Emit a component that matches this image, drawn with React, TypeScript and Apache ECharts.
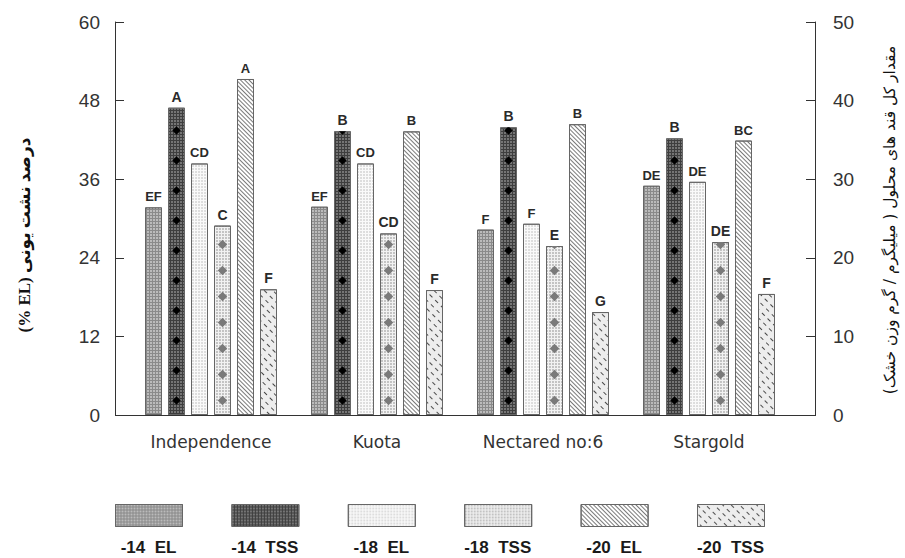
import React, { useEffect, useRef } from "react";
import * as echarts from "echarts";

// ---------- data ----------
const categories = ["Independence", "Kuota", "Nectared no:6", "Stargold"];
const seriesNames = ["-14  EL", "-14  TSS", "-18  EL", "-18  TSS", "-20  EL", "-20  TSS"];

// EL (%) on left axis, TSS on right axis
const el14 = [31.7, 31.8, 28.3, 35.0];
const tss14 = [39.1, 36.1, 36.6, 35.2];
const el18 = [38.4, 38.4, 29.2, 35.6];
const tss18 = [24.1, 23.1, 21.5, 22.0];
const el20 = [51.3, 43.3, 44.4, 41.9];
const tss20 = [16.0, 15.9, 13.1, 15.4];

const letters14EL = ["EF", "EF", "F", "DE"];
const letters14TSS = ["A", "B", "B", "B"];
const letters18EL = ["CD", "CD", "F", "DE"];
const letters18TSS = ["C", "CD", "E", "DE"];
const letters20EL = ["A", "B", "B", "BC"];
const letters20TSS = ["F", "F", "G", "F"];

const leftAxis = { min: 0, max: 60, interval: 12 };
const rightAxis = { min: 0, max: 50, interval: 10 };

const leftTitle = "(% EL) درصد نشت یونی";
const rightTitle = "\u200Fمقدار کل قند های محلول ( میلیگرم / گرم وزن خشک)\u200F";

// ---------- layout ----------
const W = 905;
const H = 558;
const GRID_LEFT = 128;
const GRID_RIGHT = 113;
const GRID_TOP = 22;
const GRID_BOTTOM = 143;
const LEFT_OFFSET = 13;
const RIGHT_OFFSET = 23;
const BAR_W = 17;
const BAR_GAP = (6 / 17) * 100 + "%";
const LEG_LEFT = 115;
const LEG_STEP = 116.4;
const LEG_TOP = 504;
const LEG_W = 67;
const LEG_H = 22;

const AXIS_COLOR = "#333";
const BORDER = "#666";

const dotDecal = (color: string, size = 0.7) => ({
  symbol: "rect",
  symbolSize: size,
  color,
  dashArrayX: [2, 1],
  dashArrayY: [2, 1],
  rotation: 0,
});

const hatchDecal = (color: string, dashX: number[], dashY: number[]) => ({
  symbol: "rect",
  symbolSize: 1,
  color,
  dashArrayX: dashX,
  dashArrayY: dashY,
  rotation: Math.PI / 4,
});

const diamondDecal = (color: string, dashX: number[], dashY: number[], size: number) => ({
  symbol: "diamond",
  symbolSize: size,
  color,
  dashArrayX: dashX,
  dashArrayY: dashY,
  rotation: 0,
});

export default function App() {
  const ref = useRef<HTMLDivElement>(null);

  useEffect(() => {
    if (!ref.current) return;
    const chart = echarts.init(ref.current, null, { renderer: "svg", width: W, height: H });

    const defs = [
      { data: el14, y: 0, color: "#8a8a8a", decal: dotDecal("#e8e8e8"), letters: letters14EL, fs: 13 },
      { data: tss14, y: 1, color: "#3e3e3e", decal: dotDecal("#a8a8a8"), letters: letters14TSS, fs: 14 },
      { data: el18, y: 0, color: "#fafafa", decal: dotDecal("#9a9a9a", 0.6), letters: letters18EL, fs: 13 },
      { data: tss18, y: 1, color: "#f2f2f2", decal: dotDecal("#555555", 0.6), letters: letters18TSS, fs: 14 },
      { data: el20, y: 0, color: "#ffffff", decal: hatchDecal("#7a7a7a", [1, 0], [1, 2]), letters: letters20EL, fs: 13 },
      { data: tss20, y: 1, color: "#ededed", decal: hatchDecal("#4a4a4a", [4, 4], [1, 5]), letters: letters20TSS, fs: 14 },
    ];

    const mainSeries = defs.map((d, i) => ({
      type: "bar",
      name: seriesNames[i],
      xAxisIndex: 0,
      yAxisIndex: d.y,
      data: d.data,
      barWidth: BAR_W,
      barGap: BAR_GAP,
      itemStyle: { color: d.color, borderColor: BORDER, borderWidth: 1, decal: d.decal },
      label: {
        show: true,
        position: "top",
        distance: 4,
        formatter: (p: any) => d.letters[p.dataIndex],
        fontFamily: "Liberation Sans, Arial, sans-serif",
        fontWeight: "bold",
        fontSize: d.fs,
        color: "#2a2a2a",
      },
      silent: true,
    }));

    // overlay series (diamond markers) laid out on a twin category axis
    const overlayDefs: any[] = [
      null,
      { data: tss14, y: 1, decal: diamondDecal("#000000", [21, 62], [21, 9], 0.4) },
      null,
      { data: tss18, y: 1, decal: diamondDecal("#7a7a7a", [0, 46, 21, 16], [21, 5], 0.45) },
      null,
      null,
    ];
    const overlaySeries = overlayDefs.map((d) => ({
      type: "bar",
      xAxisIndex: 1,
      yAxisIndex: d ? d.y : 0,
      data: d ? d.data : [],
      barWidth: BAR_W,
      barGap: BAR_GAP,
      itemStyle: d
        ? { color: "rgba(0,0,0,0)", borderWidth: 0, decal: d.decal }
        : { color: "rgba(0,0,0,0)" },
      silent: true,
      z: 3,
    }));

    const legends = seriesNames.map((n, i) => ({
      data: [n],
      left: LEG_LEFT + i * LEG_STEP,
      top: LEG_TOP,
      padding: 0,
      itemGap: 0,
      itemWidth: LEG_W,
      itemHeight: LEG_H,
      icon: "rect",
      selectedMode: false,
      formatter: () => "",
      itemStyle: { borderWidth: 1, borderColor: BORDER },
    }));

    const legendLabels = seriesNames.map((n, i) => ({
      type: "text",
      x: LEG_LEFT + i * LEG_STEP + LEG_W / 2,
      y: 547,
      silent: true,
      style: {
        text: n,
        fill: "#1a1a1a",
        font: "bold 17px 'Liberation Sans', Arial, sans-serif",
        textAlign: "center",
        textVerticalAlign: "middle",
      },
    }));

    const axisY = H - GRID_BOTTOM;
    const leftX = GRID_LEFT - LEFT_OFFSET;
    const rightX = W - GRID_RIGHT + RIGHT_OFFSET;

    const yAxisCommon = {
      type: "value",
      axisLine: { show: true, lineStyle: { color: AXIS_COLOR, width: 1 } },
      axisTick: { show: true, inside: true, length: 9, lineStyle: { color: AXIS_COLOR } },
      splitLine: { show: false },
    };

    chart.setOption({
      animation: false,
      backgroundColor: "#ffffff",
      grid: { left: GRID_LEFT, right: GRID_RIGHT, top: GRID_TOP, bottom: GRID_BOTTOM, containLabel: false },
      xAxis: [
        {
          type: "category",
          data: categories,
          axisLine: { show: false },
          axisTick: { show: false },
          axisLabel: {
            margin: 18,
            fontSize: 17,
            fontFamily: "DejaVu Sans, sans-serif",
            color: "#333",
          },
        },
        { type: "category", data: categories, show: false },
      ],
      yAxis: [
        {
          ...yAxisCommon,
          ...leftAxis,
          position: "left",
          offset: LEFT_OFFSET,
          axisLabel: { margin: 15, fontSize: 19, fontFamily: "Liberation Sans, Arial, sans-serif", color: "#333" },
        },
        {
          ...yAxisCommon,
          ...rightAxis,
          position: "right",
          offset: RIGHT_OFFSET,
          axisLabel: { margin: 18, fontSize: 19, fontFamily: "Liberation Sans, Arial, sans-serif", color: "#333" },
        },
      ],
      legend: legends,
      series: [...mainSeries, ...overlaySeries],
      graphic: [
        {
          type: "line",
          silent: true,
          z: 100,
          shape: { x1: leftX, y1: axisY + 0.5, x2: rightX + 1, y2: axisY + 0.5 },
          style: { stroke: AXIS_COLOR, lineWidth: 1 },
        },
        {
          type: "text",
          x: 24,
          y: 235,
          rotation: Math.PI / 2,
          silent: true,
          style: {
            text: leftTitle,
            fill: "#111",
            font: "bold 17px 'Liberation Serif', 'DejaVu Sans', serif",
            textAlign: "center",
            textVerticalAlign: "middle",
          },
        },
        {
          type: "text",
          x: 890,
          y: 220,
          rotation: Math.PI / 2,
          silent: true,
          style: {
            text: rightTitle,
            fill: "#111",
            font: "15.5px 'DejaVu Sans', sans-serif",
            textAlign: "center",
            textVerticalAlign: "middle",
          },
        },
        ...legendLabels,
      ],
    });

    return () => chart.dispose();
  }, []);

  return (
    <div
      ref={ref}
      style={{ position: "fixed", left: 0, top: 0, width: W, height: H, background: "#fff" }}
    />
  );
}
